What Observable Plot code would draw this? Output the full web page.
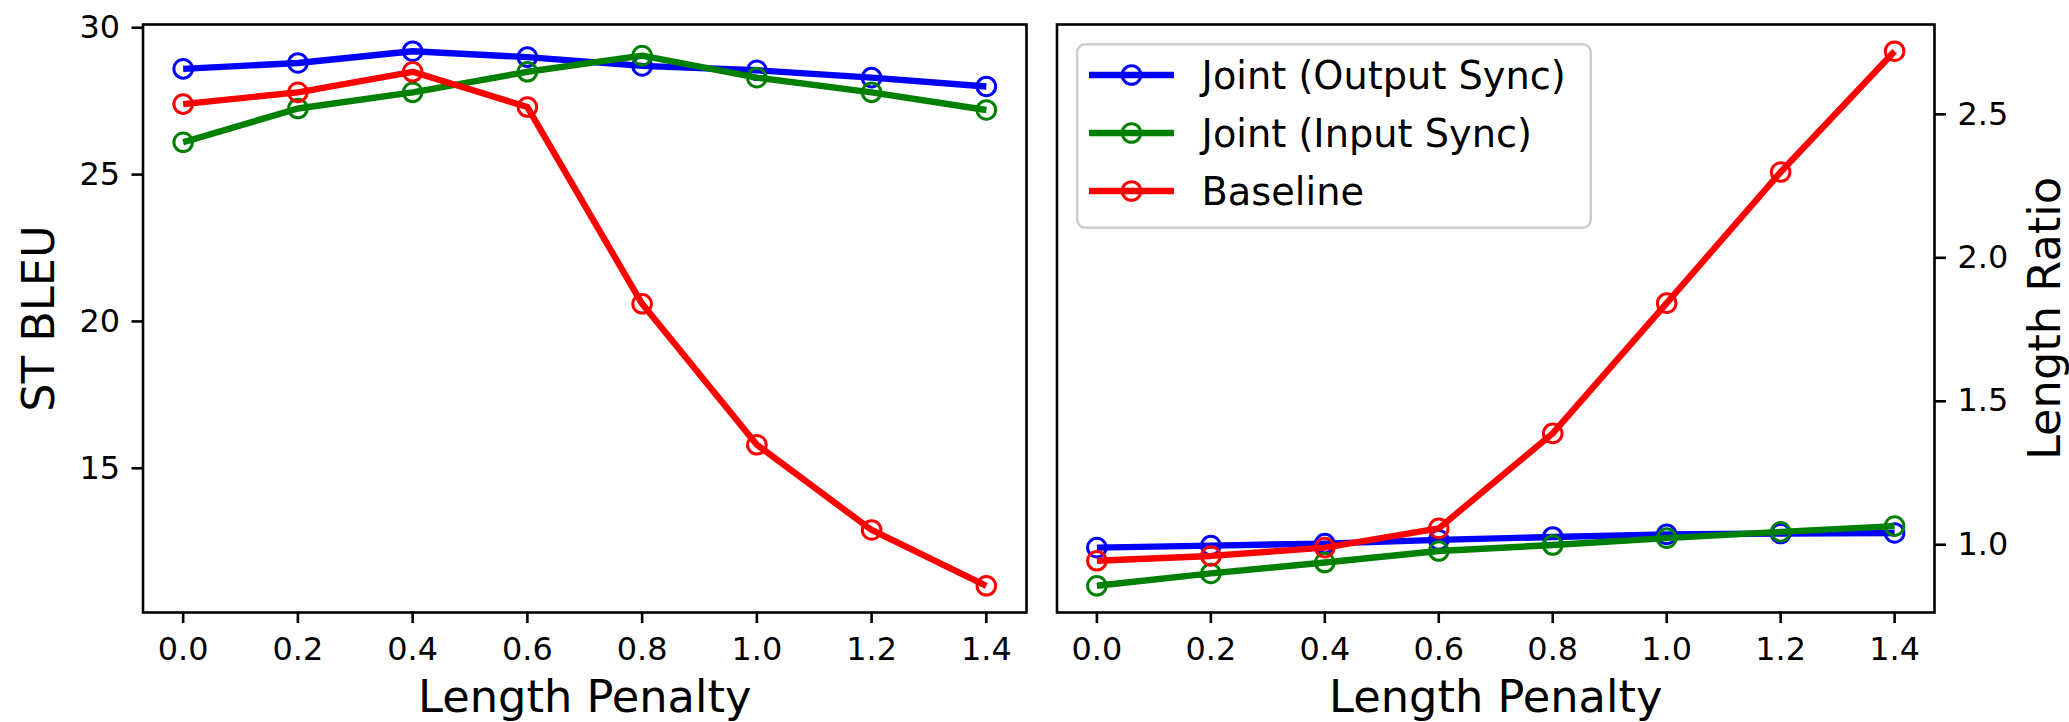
<!DOCTYPE html>
<html>
<head>
<meta charset="utf-8">
<script src="https://cdn.jsdelivr.net/npm/d3@7"></script>
<script src="https://cdn.jsdelivr.net/npm/@observablehq/plot@0.6"></script>
<style>
  html, body { margin: 0; padding: 0; background: #fff; }
  #wrap { position: relative; width: 2069px; height: 722px; overflow: hidden; background: #fff; }
  #left { position: absolute; left: 0; top: 0; }
  #right { position: absolute; left: 1040px; top: 0; }
  #legend { position: absolute; left: 1076px; top: 43px; }
  svg { font-family: "DejaVu Sans", sans-serif; }
</style>
</head>
<body>
<div id="wrap">
  <div id="left"></div>
  <div id="right"></div>
  <div id="legend"></div>
</div>
<script>
// ---- data ----
const penalties = [0.0, 0.2, 0.4, 0.6, 0.8, 1.0, 1.2, 1.4];
const seriesNames = ["Joint (Output Sync)", "Joint (Input Sync)", "Baseline"];
const seriesColors = ["#0000ff", "#008000", "#ff0000"];

const bleuOutputSync = [28.6, 28.8, 29.2, 29.0, 28.7, 28.55, 28.3, 28.0];
const bleuInputSync  = [26.1, 27.25, 27.8, 28.5, 29.05, 28.3, 27.8, 27.2];
const bleuBaseline   = [27.4, 27.8, 28.5, 27.3, 20.6, 15.8, 12.9, 11.0];

const ratioOutputSync = [0.990, 0.997, 1.004, 1.017, 1.027, 1.036, 1.039, 1.041];
const ratioInputSync  = [0.857, 0.900, 0.938, 0.978, 0.999, 1.023, 1.045, 1.065];
const ratioBaseline   = [0.944, 0.961, 0.990, 1.057, 1.388, 1.842, 2.299, 2.720];

const xTickValues = [0.0, 0.2, 0.4, 0.6, 0.8, 1.0, 1.2, 1.4];
const bleuTicks = [15, 20, 25, 30];
const ratioTicks = [1.0, 1.5, 2.0, 2.5];

const xLabel = "Length Penalty";
const leftYLabel = "ST BLEU";
const rightYLabel = "Length Ratio";

// ---- helpers ----
function padded(values) {
  const lo = d3.min(values), hi = d3.max(values), m = (hi - lo) * 0.05;
  return [lo - m, hi + m];
}
function rows(values, s) {
  return penalties.map((p, i) => ({penalty: p, value: values[i], series: seriesNames[s]}));
}
function seriesMarks(list) {
  const marks = [];
  list.forEach((vals, s) => {
    const data = rows(vals, s);
    marks.push(Plot.line(data, {x: "penalty", y: "value", stroke: seriesColors[s], strokeWidth: 6.4, strokeLinejoin: "round", strokeLinecap: "butt"}));
    marks.push(Plot.dot(data, {x: "penalty", y: "value", r: 9.3, stroke: seriesColors[s], strokeWidth: 3, fill: "none"}));
  });
  return marks;
}

const xDomain = padded(penalties);
const tickFont = 31.9;
const labelFont = 44.7;
const legendFont = 38.3;
const style = {fontFamily: "DejaVu Sans", fontSize: tickFont + "px", color: "black", background: "white", overflow: "visible"};

// ---- left panel ----
const bleuSeries = [bleuOutputSync, bleuInputSync, bleuBaseline];
const left = Plot.plot({
  width: 1040, height: 722,
  marginLeft: 142.5, marginRight: 14, marginTop: 24, marginBottom: 110,
  style,
  x: {domain: xDomain},
  y: {domain: padded(bleuSeries.flat())},
  marks: [
    ...seriesMarks(bleuSeries),
    Plot.frame({stroke: "black", strokeWidth: 2.6}),
    Plot.axisX({ticks: xTickValues, tickFormat: d3.format(".1f"), tickSize: 11, tickPadding: 14, strokeWidth: 2.6, fontSize: tickFont, label: null}),
    Plot.axisY({ticks: bleuTicks, tickFormat: d3.format("d"), tickSize: 11, tickPadding: 12, strokeWidth: 2.6, fontSize: tickFont, label: null}),
    Plot.text([xLabel], {text: d => d, frameAnchor: "bottom", textAnchor: "middle", lineAnchor: "bottom", dy: 99, fontSize: labelFont}),
    Plot.text([leftYLabel], {text: d => d, frameAnchor: "left", textAnchor: "middle", lineAnchor: "top", rotate: -90, dx: -121, fontSize: labelFont})
  ]
});
document.getElementById("left").appendChild(left);

// ---- right panel ----
const ratioSeries = [ratioOutputSync, ratioInputSync, ratioBaseline];
const right = Plot.plot({
  width: 1029, height: 722,
  marginLeft: 16.5, marginRight: 135, marginTop: 24, marginBottom: 110,
  style,
  x: {domain: xDomain},
  y: {domain: padded(ratioSeries.flat())},
  marks: [
    ...seriesMarks(ratioSeries),
    Plot.frame({stroke: "black", strokeWidth: 2.6}),
    Plot.axisX({ticks: xTickValues, tickFormat: d3.format(".1f"), tickSize: 11, tickPadding: 14, strokeWidth: 2.6, fontSize: tickFont, label: null}),
    Plot.axisY({anchor: "right", ticks: ratioTicks, tickFormat: d3.format(".1f"), tickSize: 11, tickPadding: 12, strokeWidth: 2.6, fontSize: tickFont, label: null}),
    Plot.text([xLabel], {text: d => d, frameAnchor: "bottom", textAnchor: "middle", lineAnchor: "bottom", dy: 99, fontSize: labelFont}),
    Plot.text([rightYLabel], {text: d => d, frameAnchor: "right", textAnchor: "middle", lineAnchor: "bottom", rotate: -90, dx: 125, fontSize: labelFont})
  ]
});
document.getElementById("right").appendChild(right);

// ---- legend (overlay inside right panel) ----
const lw = 516, lh = 186;
const leg = d3.select("#legend").append("svg")
  .attr("width", lw).attr("height", lh)
  .style("display", "block");
leg.append("rect")
  .attr("x", 1.2).attr("y", 1.2).attr("width", lw - 2.4).attr("height", lh - 2.4)
  .attr("rx", 8).attr("ry", 8)
  .attr("fill", "white").attr("fill-opacity", 0.8)
  .attr("stroke", "#cccccc").attr("stroke-width", 2.4);
seriesNames.forEach((name, i) => {
  const cy = 32 + i * 58;
  const g = leg.append("g");
  g.append("line").attr("x1", 13).attr("x2", 98).attr("y1", cy).attr("y2", cy)
    .attr("stroke", seriesColors[i]).attr("stroke-width", 6.4);
  g.append("circle").attr("cx", 55.5).attr("cy", cy).attr("r", 9.3)
    .attr("fill", "none").attr("stroke", seriesColors[i]).attr("stroke-width", 3);
  g.append("text").attr("x", 125.6).attr("y", cy + 14)
    .attr("font-family", "DejaVu Sans").attr("font-size", legendFont).attr("fill", "black")
    .text(name);
});
</script>
</body>
</html>
